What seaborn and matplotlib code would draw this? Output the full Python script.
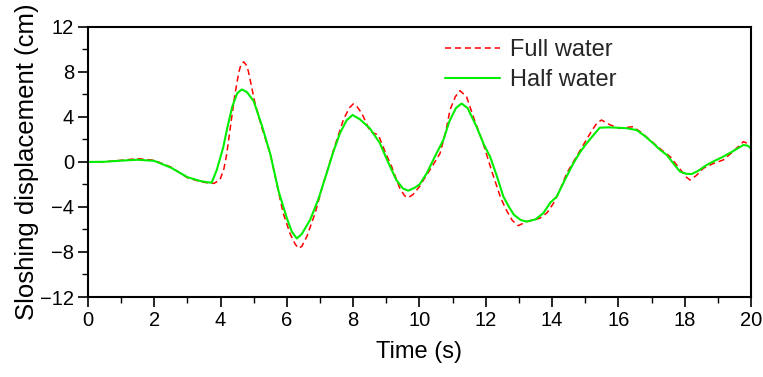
import numpy as np
import pandas as pd
import matplotlib
matplotlib.use("Agg")
import matplotlib.pyplot as plt
import seaborn as sns
from matplotlib.ticker import MultipleLocator

# Data
t_half = [0, 0.5, 1.0, 1.5, 2.0, 2.5, 3.0, 3.4, 3.6, 3.73, 3.88, 4.08, 4.2, 4.35, 4.5, 4.64, 4.8, 5.0,
          5.25, 5.5, 5.75, 6.0, 6.15, 6.3, 6.45, 6.7, 6.95, 7.2, 7.4, 7.6, 7.8, 7.98, 8.2,
          8.5, 8.8, 9.05, 9.3, 9.5, 9.66, 9.85, 10.0, 10.22, 10.45, 10.72, 10.9, 11.1, 11.27,
          11.45, 11.72, 11.95, 12.13, 12.35, 12.53, 12.7, 12.85, 13.05, 13.23, 13.5, 13.73,
          13.95, 14.14, 14.4, 14.64, 14.85, 15.04, 15.25, 15.44, 15.7, 15.95, 16.25, 16.55,
          16.8, 17.05, 17.25, 17.46, 17.65, 17.86, 18.05, 18.21, 18.4, 18.66, 18.9, 19.16,
          19.45, 19.77, 19.9, 20.0]
y_half = [0, 0.02, 0.12, 0.2, 0.1, -0.5, -1.35, -1.7, -1.8, -1.84, -0.75, 1.3, 3.0, 4.9, 6.1, 6.45, 6.2, 5.4,
          3.2, 0.7, -2.6, -5.0, -6.2, -6.8, -6.4, -5.15, -3.3, -1.0, 0.9, 2.55, 3.7, 4.18, 3.8,
          3.0, 1.7, 0.0, -1.6, -2.35, -2.55, -2.3, -2.0, -1.0, 0.4, 1.96, 3.6, 4.8, 5.2,
          4.8, 3.14, 1.5, 0.47, -1.4, -3.08, -4.0, -4.7, -5.15, -5.3, -5.1, -4.56,
          -3.6, -3.08, -1.5, -0.12, 0.9, 1.66, 2.4, 3.05, 3.08, 3.05, 3.0, 2.84,
          2.3, 1.66, 1.1, 0.62, -0.1, -0.86, -1.05, -1.07, -0.8, -0.27, 0.1, 0.47,
          0.95, 1.51, 1.45, 1.2]

t_full = [0, 0.5, 1.0, 1.5, 2.0, 2.5, 3.0, 3.4, 3.6, 3.8, 3.98, 4.1, 4.18, 4.3, 4.43, 4.55, 4.62, 4.7,
          4.78, 4.84, 5.04, 5.25, 5.5, 5.75, 5.89, 6.1, 6.25, 6.35, 6.45, 6.6, 6.85, 7.1, 7.4, 7.7,
          7.88, 8.0, 8.12, 8.26, 8.51, 8.76, 8.95, 9.16, 9.4, 9.55, 9.66, 9.8, 10.0, 10.12, 10.4,
          10.62, 10.8, 10.92, 11.08, 11.22, 11.42, 11.65, 11.92, 12.2, 12.45, 12.62, 12.8,
          12.98, 13.23, 13.63, 13.85, 14.04, 14.25, 14.44, 14.7, 14.94, 15.2, 15.35, 15.49,
          15.75, 16.04, 16.44, 16.7, 16.95, 17.25, 17.56, 17.85, 18.05, 18.16, 18.35, 18.56,
          18.85, 19.16, 19.45, 19.77, 20.0]
y_full = [0, 0.02, 0.15, 0.3, 0.15, -0.45, -1.4, -1.75, -1.85, -1.9, -1.6, -0.6, 0.6, 3.2, 5.96, 8.0,
          8.7, 8.9, 8.6, 8.04, 5.2, 3.0, 0.7, -2.7, -4.56, -6.4, -7.3, -7.67, -7.5, -6.64, -4.56, -1.9,
          1.0, 3.73, 4.8, 5.16, 4.9, 4.33, 2.7, 2.4, 1.0, -0.41, -2.3, -3.0, -3.17, -2.9, -2.19,
          -1.6, -0.3, 0.77, 2.8, 4.62, 5.8, 6.34, 5.8, 3.8, 1.66, -1.0, -3.2, -4.27, -5.2,
          -5.66, -5.3, -5.0, -4.5, -3.67, -2.4, -1.0, 0.3, 1.51, 2.8, 3.45, 3.73, 3.3, 2.99,
          3.14, 2.6, 1.96, 1.2, 0.47, -0.6, -1.35, -1.6, -1.2, -0.56, -0.15, 0.18, 0.9, 1.81, 1.5]

series_names = ["Full water", "Half water"]
x_ticks = [0, 2, 4, 6, 8, 10, 12, 14, 16, 18, 20]
y_ticks = [-12, -8, -4, 0, 4, 8, 12]

df = pd.concat([
    pd.DataFrame({"t": t_full, "y": y_full, "case": series_names[0]}),
    pd.DataFrame({"t": t_half, "y": y_half, "case": series_names[1]}),
])

sns.set_theme(style="white")
plt.rcParams["font.family"] = ["Liberation Sans", "DejaVu Sans"]

fig = plt.figure(figsize=(7.63, 3.77), dpi=100)
ax = fig.add_axes([0.1153, 0.2122, 0.869, 0.7162])

sns.lineplot(data=df, x="t", y="y", hue="case", style="case",
             palette={"Full water": "#ff0000", "Half water": "#00ee00"},
             dashes={"Full water": (4, 2.5), "Half water": ""},
             ax=ax, sort=False, estimator=None)
for line in ax.get_lines():
    if line.get_linestyle() == "-":
        line.set_linewidth(1.5)
    else:
        line.set_linewidth(1.1)

ax.set_xlim(0, 20)
ax.set_ylim(-12, 12)
ax.set_xticks(x_ticks)
ax.set_yticks(y_ticks)
ax.xaxis.set_minor_locator(MultipleLocator(1))
ax.yaxis.set_minor_locator(MultipleLocator(2))
ax.tick_params(which="major", direction="out", length=7, width=1.2, labelsize=14.5,
               bottom=True, left=True, colors="black", pad=3)
ax.tick_params(which="minor", direction="out", length=4, width=1.0,
               bottom=True, left=True, colors="black")
for s in ax.spines.values():
    s.set_linewidth(1.5)
    s.set_color("black")

ax.set_xlabel("Time (s)", fontsize=17, color="black", labelpad=8)
ax.set_ylabel("Sloshing displacement (cm)", fontsize=18.5, color="black", labelpad=1)

h, l = ax.get_legend_handles_labels()
leg = ax.legend(h, l, loc="upper left", bbox_to_anchor=(0.507, 1.035), frameon=False,
                fontsize=17, handlelength=2.3, handletextpad=0.45, labelspacing=0.35)
leg.set_title(None)

fig.savefig("out.png", dpi=100, facecolor="white")
